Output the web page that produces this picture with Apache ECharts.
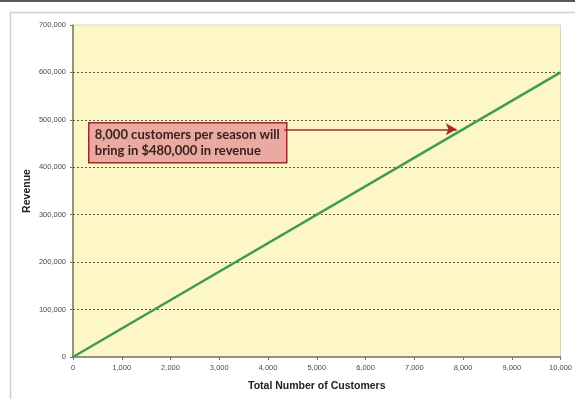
<!DOCTYPE html>
<html>
<head>
<meta charset="utf-8">
<script src="https://cdn.jsdelivr.net/npm/echarts@6/dist/echarts.min.js"></script>
<style>
  html, body { margin: 0; padding: 0; background: #ffffff; }
  #chart { width: 575px; height: 399px; }
</style>
</head>
<body>
<div id="chart"></div>
<script>
// Revenue grows linearly with the number of customers ($60 each)
const customers = [0, 10000];
const revenue = [0, 600000];

// Axis ranges and tick steps
const xTicks = { min: 0, max: 10000, step: 1000 };
const yTicks = { min: 0, max: 700000, step: 100000 };

// Callout: arrow from the note toward the 8,000-customer point
const calloutLines = ['8,000 customers per season will', 'bring in $480,000 in revenue'];
const arrowFrom = [4330, 480000];
const arrowTo = [7870, 480000];

const fmt = v => v.toLocaleString('en-US');

const chart = echarts.init(document.getElementById('chart'), null, { renderer: 'canvas' });

chart.setOption({
  animation: false,
  backgroundColor: '#ffffff',
  grid: {
    left: 73, right: 10, top: 25, bottom: 42,
    show: true,
    backgroundColor: '#fdf6c6',
    borderColor: '#d9d5b4',
    borderWidth: 1
  },
  xAxis: {
    type: 'value',
    min: xTicks.min, max: xTicks.max, interval: xTicks.step,
    name: 'Total Number of Customers',
    nameLocation: 'middle',
    nameGap: 24,
    nameTextStyle: { fontFamily: 'Liberation Sans', fontWeight: 'bold', fontSize: 10.5, color: '#222' },
    axisLine: { show: true, lineStyle: { color: '#77775e', width: 1.5 } },
    axisTick: { show: true, length: 3, lineStyle: { color: '#77775e' } },
    axisLabel: { formatter: fmt, fontFamily: 'Liberation Sans', fontSize: 7.5, color: '#4a4a4a', margin: 7 },
    splitLine: { show: false }
  },
  yAxis: {
    type: 'value',
    min: yTicks.min, max: yTicks.max, interval: yTicks.step,
    name: 'Revenue',
    nameLocation: 'middle',
    nameGap: 40,
    nameMoveOverlap: false,
    nameRotate: 90,
    nameTextStyle: { fontFamily: 'Liberation Sans', fontWeight: 'bold', fontSize: 10.5, color: '#222' },
    axisLine: { show: true, lineStyle: { color: '#77775e', width: 1.5 } },
    axisTick: { show: true, length: 3, lineStyle: { color: '#77775e' } },
    axisLabel: { formatter: fmt, fontFamily: 'Liberation Sans', fontSize: 7.5, color: '#4a4a4a', margin: 7 },
    splitLine: { show: true, showMinLine: false, showMaxLine: false,
                 lineStyle: { color: '#5a5a4a', type: [2, 2], width: 1 } }
  },
  series: [
    {
      type: 'line',
      data: customers.map((c, i) => [c, revenue[i]]),
      symbol: 'none',
      lineStyle: { color: '#3f9c4f', width: 2.5 },
      markLine: {
        silent: true,
        symbol: ['none', 'arrow'],
        symbolSize: [9, 11],
        label: { show: false },
        lineStyle: { color: '#a52a2a', width: 1.5, type: 'solid' },
        data: [[{ coord: arrowFrom }, { coord: arrowTo }]]
      }
    }
  ],
  graphic: [
    { type: 'rect', left: 0, top: 0, shape: { width: 575, height: 2 }, style: { fill: '#5a5a5a' } },
    { type: 'rect', left: 8, top: 10, shape: { width: 600, height: 420 },
      style: { fill: 'none', stroke: '#cfcfcf', lineWidth: 1.5 }, z: -1 },
    {
      type: 'group', left: 88, top: 122, z: 100,
      children: [
        { type: 'rect', shape: { x: 0, y: 0, width: 198, height: 40 },
          style: { fill: '#eaaaa2', stroke: '#9e2b2b', lineWidth: 1.5 } },
        { type: 'text', x: 6, y: 4,
          style: { text: calloutLines.join('\n'), fill: '#3a1e1e',
                   font: 'bold 13px Lato, "Noto Sans", sans-serif', lineHeight: 16 } }
      ]
    }
  ]
});
</script>
</body>
</html>
